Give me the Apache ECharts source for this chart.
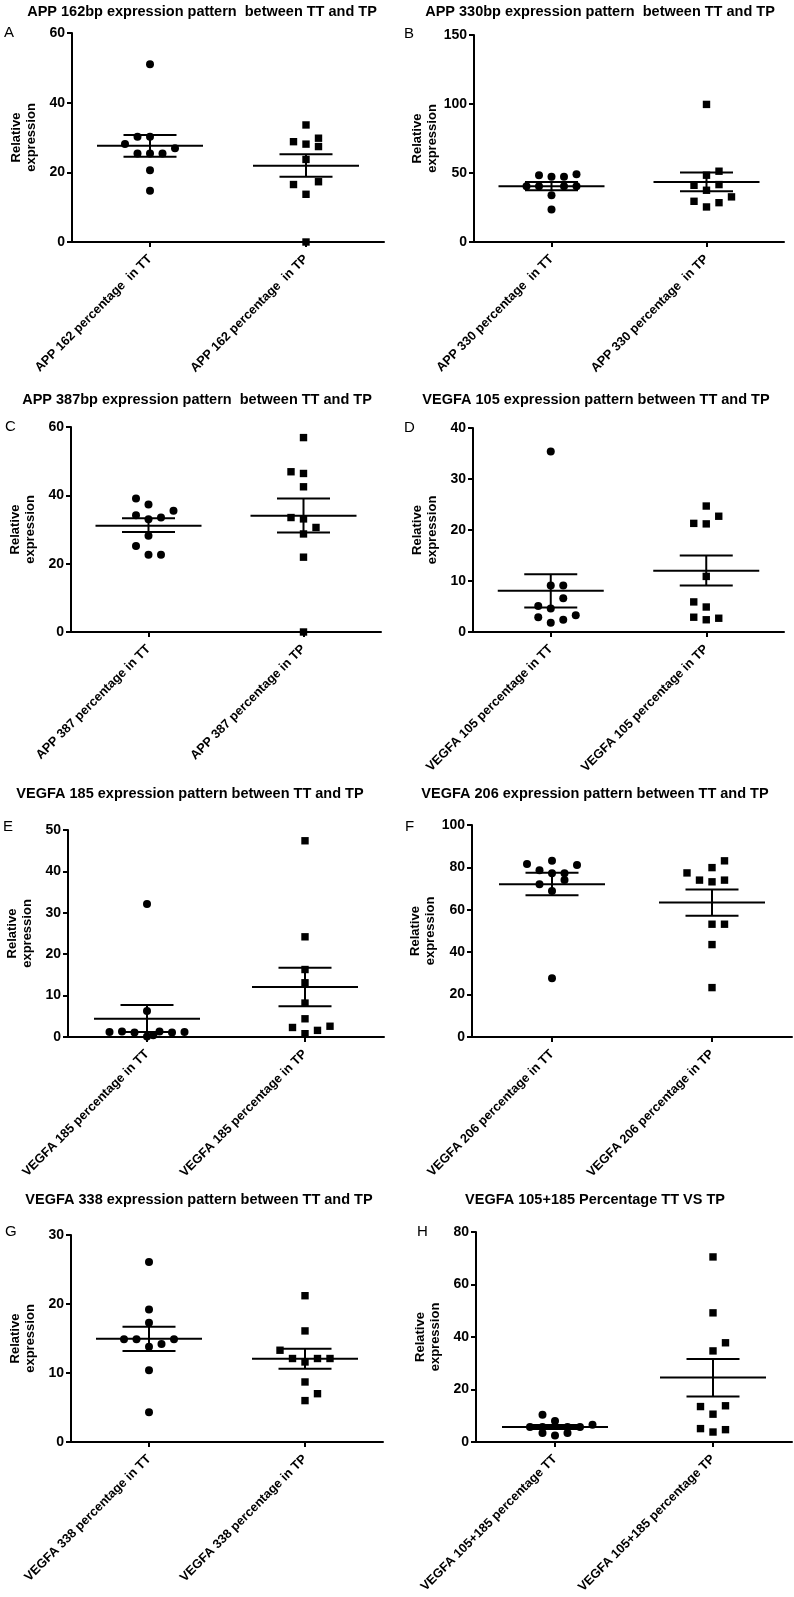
<!DOCTYPE html>
<html><head><meta charset="utf-8">
<script src="https://cdn.jsdelivr.net/npm/echarts@6/dist/echarts.min.js"></script>
<style>html,body{margin:0;padding:0;background:#fff}#c{width:794px;height:1597px}</style>
</head><body><div id="c"></div>
<script>
// ---------- DATA ----------
const titles = [
  'APP 162bp expression pattern  between TT and TP',
  'APP 330bp expression pattern  between TT and TP',
  'APP 387bp expression pattern  between TT and TP',
  'VEGFA 105 expression pattern between TT and TP',
  'VEGFA 185 expression pattern between TT and TP',
  'VEGFA 206 expression pattern between TT and TP',
  'VEGFA 338 expression pattern between TT and TP',
  'VEGFA 105+185 Percentage TT VS TP'
];
const letters = ['A','B','C','D','E','F','G','H'];
const ttLabels = [
  'APP 162 percentage  in TT','APP 330 percentage  in TT','APP 387 percentage in TT',
  'VEGFA 105 percentage in TT','VEGFA 185 percentage in TT','VEGFA 206 percentage in TT',
  'VEGFA 338 percentage in TT','VEGFA 105+185 percentage TT'
];
const tpLabels = [
  'APP 162 percentage  in TP','APP 330 percentage  in TP','APP 387 percentage in TP',
  'VEGFA 105 percentage in TP','VEGFA 185 percentage in TP','VEGFA 206 percentage in TP',
  'VEGFA 338 percentage in TP','VEGFA 105+185 percentage TP'
];
const yTitle = 'Relative\nexpression';
const yMax = [60,150,60,40,50,100,30,80];
const yInterval = [20,50,20,10,10,20,10,20];

const ttValues = [
  [51.0,30.2,30.2,28.1,26.9,25.4,25.4,25.4,20.6,14.7],
  [48.4,47.2,47.2,49.1,40.4,40.4,40.4,40.4,33.9,23.5],
  [39.1,37.3,34.2,35.5,33.0,33.5,28.2,25.2,22.6,22.6],
  [35.4,9.1,9.1,6.6,5.1,4.6,2.9,2.4,3.3,1.8],
  [32.1,6.3,1.2,1.3,1.1,1.3,1.1,1.2,0.1,0.4],
  [81.6,83.1,81.1,78.7,77.2,77.2,74.0,72.1,68.9,27.7],
  [26.1,19.2,17.3,14.9,14.9,14.9,13.8,14.2,10.4,4.3],
  [10.4,8.0,5.7,5.7,5.7,5.7,3.4,3.4,2.5,6.6]
];
const ttSlots = [
  [0,-1,0,-2,2,-1,0,1,0,0],
  [-1,0,1,2,-2,-1,1,2,0,0],
  [-1,0,-1,2,0,1,0,-1,0,1],
  [0,0,1,1,-1,0,-1,1,2,0],
  [0,0,-3,-2,-1,1,2,3,0,0.5],
  [-2,0,2,-1,0,1,1,-1,0,0],
  [0,0,0,-2,-1,2,0,1,0,0],
  [-1,0,-2,-1,1,2,-1,1,0,3]
];
const tpValues = [
  [33.6,29.8,28.8,28.1,27.4,23.7,16.5,17.3,13.7,0],
  [99.7,51.3,48.4,41.1,41.6,37.5,32.7,29.5,28.5,25.4],
  [56.9,46.9,46.4,42.5,33.5,33.1,30.6,28.7,21.9,0],
  [24.7,22.7,21.3,21.2,10.9,5.9,4.9,2.9,2.4,2.7],
  [47.4,24.2,16.3,13.1,8.2,4.4,2.3,1.6,2.6,0.8],
  [83.1,79.9,77.4,74.0,73.2,74.0,53.2,53.2,43.6,23.3],
  [21.2,16.1,13.3,12.1,12.1,12.1,11.6,8.7,7.0,6.0],
  [70.5,49.2,37.8,34.7,13.5,13.8,10.6,5.1,3.8,4.7]
];
const tpSlots = [
  [0,1,-1,0,1,0,-1,1,0,0],
  [0,1,0,-1,1,0,2,-1,1,0],
  [0,-1,0,0,-1,0,1,0,0,0],
  [0,1,-1,0,0,-1,0,-1,0,1],
  [0,0,0,0,0,0,-1,1,2,0],
  [1,0,-2,-1,0,1,0,1,0,0],
  [0,0,-2,-1,1,2,0,0,1,0],
  [0,0,1,0,-1,1,0,-1,0,1]
];
// [mean, mean+SEM, mean-SEM]
const ttStats = [[27.6,30.7,24.5],[40.4,43.5,37.5],[31.1,33.3,29.3],[8.1,11.3,4.8],
                 [4.4,7.7,1.2],[72.1,77.5,66.9],[14.95,16.7,13.2],[5.7,6.5,5.0]];
const tpStats = [[21.9,25.2,18.7],[43.5,50.3,36.8],[34.0,39.1,29.1],[12.0,15.0,9.1],
                 [12.1,16.7,7.4],[63.5,69.6,57.2],[12.06,13.5,10.6],[24.6,31.6,17.3]];

// ---------- LAYOUT ----------
const gridBoxes = [
  {left:72, top:33, width:312, height:209},
  {left:474, top:35, width:310, height:207},
  {left:71, top:427, width:310, height:205},
  {left:473, top:428, width:311, height:204},
  {left:68, top:830, width:316, height:207},
  {left:472, top:825, width:320, height:212},
  {left:71, top:1235, width:312, height:207},
  {left:476, top:1232, width:316, height:210}
];
const titlePos = [[202,12],[600,12],[197,400],[596,400],[190,794],[595,794],[199,1200],[595,1200]];
const letterPos = [[4,33],[404,34],[5,427],[404,428],[3,827],[405,827],[5,1232],[417,1232]];

const SLOT_PX = 12.5, MEAN_HALF = 53, CAP_HALF = 26.5;
const FONT = 'Liberation Sans, Arial, Helvetica, sans-serif';

function dotsRender(params, api) {
  const p = api.coord([api.value(0), api.value(1)]);
  const x = p[0] + api.value(2) * SLOT_PX, y = p[1];
  if (api.value(0) === 0) {
    return {type:'circle', shape:{cx:x, cy:y, r:4}, style:{fill:'#000'}};
  }
  return {type:'rect', shape:{x:x-3.7, y:y-3.7, width:7.4, height:7.4}, style:{fill:'#000'}};
}
function statsRender(params, api) {
  const c = api.value(0);
  const m = api.coord([c, api.value(1)]), h = api.coord([c, api.value(2)]), l = api.coord([c, api.value(3)]);
  const x = m[0];
  const st = {stroke:'#000', lineWidth:2};
  return {type:'group', children:[
    {type:'line', shape:{x1:x-MEAN_HALF, y1:m[1], x2:x+MEAN_HALF, y2:m[1]}, style:st},
    {type:'line', shape:{x1:x-CAP_HALF, y1:h[1], x2:x+CAP_HALF, y2:h[1]}, style:st},
    {type:'line', shape:{x1:x-CAP_HALF, y1:l[1], x2:x+CAP_HALF, y2:l[1]}, style:st},
    {type:'line', shape:{x1:x, y1:h[1], x2:x, y2:l[1]}, style:st}
  ]};
}

const grid = [], xAxis = [], yAxis = [], series = [], graphic = [];
for (let i = 0; i < 8; i++) {
  grid.push(Object.assign({containLabel:false}, gridBoxes[i]));
  xAxis.push({
    type:'category', gridIndex:i, data:[ttLabels[i], tpLabels[i]], boundaryGap:true,
    axisLine:{show:true, lineStyle:{color:'#000', width:2}},
    axisTick:{show:true, alignWithLabel:true, length:5, lineStyle:{color:'#000', width:2}},
    axisLabel:{rotate:45, margin:15, color:'#000', fontWeight:'bold', fontSize:12.7, fontFamily:FONT, interval:0},
    splitLine:{show:false}
  });
  yAxis.push({
    type:'value', gridIndex:i, min:0, max:yMax[i], interval:yInterval[i],
    name:yTitle, nameLocation:'middle', nameGap:33, nameRotate:90,
    nameTextStyle:{color:'#000', fontWeight:'bold', fontSize:13, fontFamily:FONT, lineHeight:15},
    axisLine:{show:true, lineStyle:{color:'#000', width:2}},
    axisTick:{show:true, length:5, lineStyle:{color:'#000', width:2}},
    axisLabel:{margin:7, color:'#000', fontWeight:'bold', fontSize:14, fontFamily:FONT},
    splitLine:{show:false}
  });
  const dots = [];
  ttValues[i].forEach((v,k) => dots.push([0, v, ttSlots[i][k]]));
  tpValues[i].forEach((v,k) => dots.push([1, v, tpSlots[i][k]]));
  series.push({type:'custom', xAxisIndex:i, yAxisIndex:i, renderItem:dotsRender,
    encode:{x:0, y:1}, data:dots, silent:true, z:3});
  series.push({type:'custom', xAxisIndex:i, yAxisIndex:i, renderItem:statsRender,
    encode:{x:0, y:[1,2,3]},
    data:[[0].concat(ttStats[i]), [1].concat(tpStats[i])], silent:true, z:4});
  graphic.push({type:'text', x:titlePos[i][0], y:titlePos[i][1],
    style:{text:titles[i], fill:'#000', font:'bold 14.5px ' + FONT, textAlign:'center', textVerticalAlign:'middle'}});
  graphic.push({type:'text', x:letterPos[i][0], y:letterPos[i][1],
    style:{text:letters[i], fill:'#000', font:'15px ' + FONT, textAlign:'left', textVerticalAlign:'middle'}});
}

const chart = echarts.init(document.getElementById('c'), null, {renderer:'canvas'});
chart.setOption({animation:false, backgroundColor:'#fff', grid, xAxis, yAxis, series, graphic});
</script>
</body></html>
